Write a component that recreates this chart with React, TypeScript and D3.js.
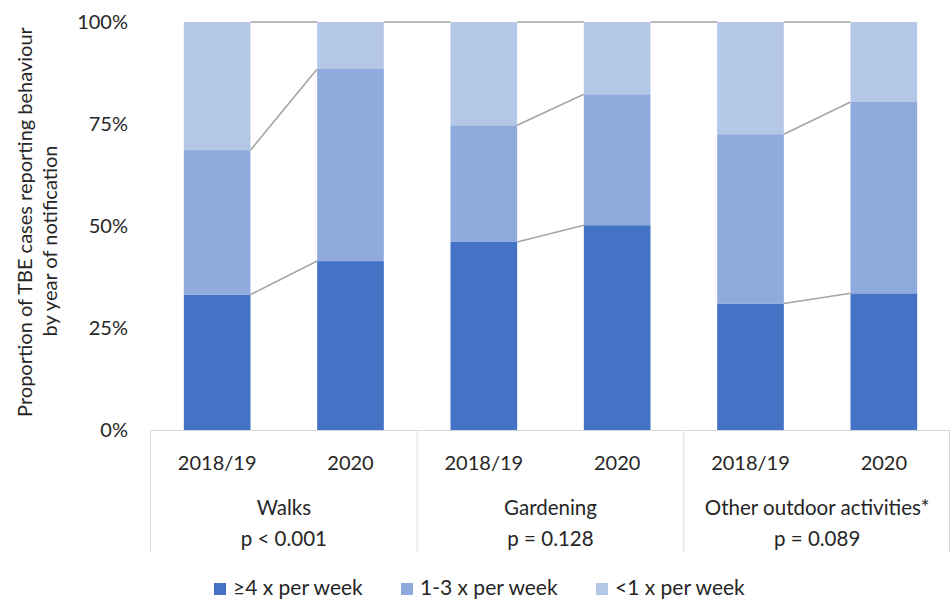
import React from "react";
import * as d3 from "d3";

const groups = ["Walks", "Gardening", "Other outdoor activities*"];
const pValues = ["p < 0.001", "p = 0.128", "p = 0.089"];
const years = ["2018/19", "2020"];
const seriesNames = ["≥4 x per week", "1-3 x per week", "<1 x per week"];
const atLeast4 = [33.2, 41.4, 46.1, 50.2, 31.0, 33.5];
const oneToThree = [35.4, 47.1, 28.6, 32.1, 41.5, 46.9];
const lessThan1 = [31.4, 11.5, 25.3, 17.7, 27.5, 19.6];
const yTicks = [0, 25, 50, 75, 100];

const colors = ["#4472C4", "#8FAADC", "#B4C7E7"];
const FONT = "Lato, 'Open Sans', sans-serif";
const TEXT = "#262626";

export default function App() {
  const W = 950, H = 601;
  const left = 150.5, right = 950.5, top = 22, bottom = 430;

  const rows = groups.flatMap((g, gi) =>
    years.map((yr, yi) => {
      const i = gi * 2 + yi;
      return { key: `${g}|${yr}`, group: gi, year: yr, s0: atLeast4[i], s1: oneToThree[i], s2: lessThan1[i] };
    })
  );
  const stack = d3.stack<any>().keys(["s0", "s1", "s2"]);
  const stacked = stack(rows);

  const x = d3.scaleBand<string>().domain(rows.map(r => r.key)).range([left, right]).paddingInner(0.5).paddingOuter(0.25);
  const y = d3.scaleLinear().domain([0, 100]).range([bottom, top]);
  const bw = x.bandwidth();
  const groupW = (right - left) / groups.length;

  const lines: { x1: number; y1: number; x2: number; y2: number }[] = [];
  for (let i = 0; i < rows.length - 1; i++) {
    const a = rows[i], b = rows[i + 1];
    const xa = (x(a.key) as number) + bw;
    const xb = x(b.key) as number;
    const topA = stacked[2][i][1], topB = stacked[2][i + 1][1];
    lines.push({ x1: xa, y1: y(topA), x2: xb, y2: y(topB) });
    if (a.group === b.group) {
      for (let s = 0; s < 2; s++) {
        lines.push({ x1: xa, y1: y(stacked[s][i][1]), x2: xb, y2: y(stacked[s][i + 1][1]) });
      }
    }
  }

  const legendX = [214, 401, 596];

  return (
    <svg width={W} height={H} style={{ display: "block", position: "absolute", left: 0, top: 0 }} fontFamily={FONT}>
      <rect width={W} height={H} fill="#fff" />
      {stacked.map((layer, s) =>
        layer.map((d, i) => (
          <rect key={`${s}-${i}`} x={x(rows[i].key)} y={y(d[1])} width={bw} height={y(d[0]) - y(d[1])} fill={colors[s]} />
        ))
      )}
      {lines.map((l, i) => (
        <line key={i} x1={l.x1} y1={l.y1} x2={l.x2} y2={l.y2} stroke="#A5A5A5" strokeWidth={1.6} />
      ))}
      <line x1={left} x2={right} y1={bottom + 0.5} y2={bottom + 0.5} stroke="#D9D9D9" strokeWidth={1} />
      {d3.range(groups.length + 1).map(i => (
        <line key={i} x1={Math.min(left + i * groupW, 949.5)} x2={Math.min(left + i * groupW, 949.5)} y1={bottom} y2={552} stroke="#D9D9D9" strokeWidth={1} />
      ))}
      {rows.map(r => (
        <text key={r.key} x={(x(r.key) as number) + bw / 2} y={469.5} textAnchor="middle" fontSize={20} fill={TEXT}>{r.year}</text>
      ))}
      {groups.map((g, gi) => (
        <g key={g}>
          <text x={left + groupW * (gi + 0.5)} y={515} textAnchor="middle" fontSize={20.5} fill={TEXT}>{g}</text>
          <text x={left + groupW * (gi + 0.5)} y={545.5} textAnchor="middle" fontSize={20.5} fill={TEXT}>{pValues[gi]}</text>
        </g>
      ))}
      {yTicks.map(t => (
        <text key={t} x={128} y={y(t) + 7} textAnchor="end" fontSize={20} fill={TEXT}>{t}%</text>
      ))}
      <text transform="translate(32,222) rotate(-90)" textAnchor="middle" fontSize={20} fill={TEXT}>Proportion of TBE  cases reporting behaviour</text>
      <text transform="translate(57,241) rotate(-90)" textAnchor="middle" fontSize={20} fill={TEXT}>by year of notification</text>
      {seriesNames.map((n, i) => (
        <g key={n}>
          <rect x={legendX[i]} y={583} width={12} height={12} fill={colors[i]} />
          <text x={legendX[i] + 19} y={595} fontSize={21} fill={TEXT}>{n}</text>
        </g>
      ))}
    </svg>
  );
}
